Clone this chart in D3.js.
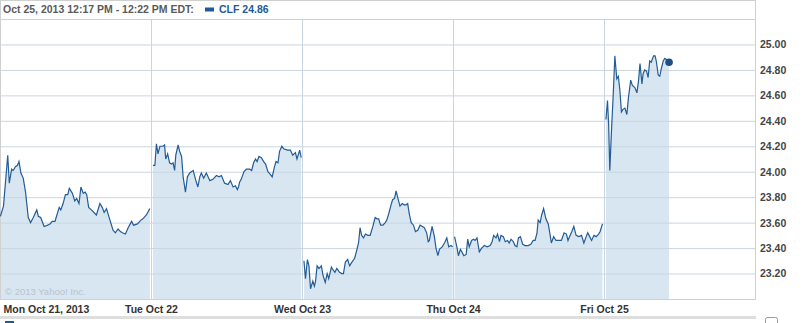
<!DOCTYPE html>
<html>
<head>
<meta charset="utf-8">
<script src="https://cdn.jsdelivr.net/npm/d3@7"></script>
<style>
  body { margin: 0; background: #fff; }
  text { font-family: "Liberation Sans", Arial, sans-serif; }
</style>
</head>
<body>
<div class="chart"></div>
<script>
// CLF intraday prices, one array per day: [minutes after open, price]
const mon = [[1,23.65],[9,23.73],[20,24.13],[24,23.91],[30,24.02],[34,24.01],[40,24.04],[45,24.05],[49,24.08],[54,23.99],[60,23.95],[66,23.84],[73,23.64],[79,23.60],[86,23.64],[95,23.70],[99,23.65],[105,23.64],[114,23.57],[123,23.58],[129,23.59],[135,23.61],[142,23.61],[146,23.65],[153,23.72],[157,23.70],[163,23.75],[169,23.82],[175,23.82],[179,23.87],[183,23.85],[187,23.83],[193,23.77],[198,23.79],[204,23.75],[209,23.88],[215,23.83],[220,23.84],[224,23.82],[229,23.72],[236,23.70],[249,23.66],[258,23.75],[264,23.72],[269,23.68],[275,23.71],[284,23.62],[292,23.54],[298,23.52],[305,23.55],[311,23.53],[316,23.52],[324,23.51],[331,23.56],[340,23.61],[345,23.58],[355,23.59],[364,23.62],[369,23.63],[378,23.66],[387,23.71]]
const tue = [[5,24.05],[10,24.05],[14,24.22],[18,24.14],[23,24.20],[27,24.20],[31,24.20],[35,24.21],[38,24.10],[43,24.14],[48,24.07],[53,24.06],[57,24.07],[61,24.01],[64,24.13],[70,24.21],[74,24.16],[79,24.12],[83,23.96],[89,23.84],[94,23.96],[100,23.99],[109,24.01],[115,23.94],[121,23.88],[126,23.96],[130,23.99],[136,23.95],[143,23.99],[152,23.93],[160,23.94],[169,23.97],[176,23.96],[182,23.97],[190,23.91],[199,23.90],[205,23.93],[212,23.88],[218,23.89],[223,23.86],[226,23.88],[229,23.92],[233,23.94],[240,24.00],[246,24.02],[255,24.02],[260,24.01],[265,24.07],[270,24.10],[274,24.08],[279,24.12],[285,24.11],[291,24.08],[296,24.06],[302,24.00],[308,23.98],[313,23.96],[319,24.04],[323,24.08],[328,24.07],[332,24.16],[338,24.20],[343,24.18],[352,24.17],[360,24.17],[366,24.13],[373,24.15],[377,24.10],[384,24.17],[388,24.11]]
const wed = [[5,23.30],[9,23.16],[14,23.31],[18,23.26],[22,23.08],[28,23.14],[32,23.10],[35,23.14],[39,23.26],[44,23.24],[50,23.26],[54,23.19],[60,23.13],[65,23.20],[69,23.16],[76,23.25],[80,23.23],[85,23.21],[90,23.24],[97,23.21],[103,23.20],[107,23.20],[112,23.29],[118,23.31],[123,23.26],[129,23.29],[136,23.32],[142,23.39],[146,23.44],[150,23.56],[154,23.50],[159,23.48],[164,23.51],[170,23.50],[176,23.50],[183,23.57],[189,23.64],[194,23.63],[198,23.63],[203,23.58],[209,23.58],[215,23.60],[219,23.62],[224,23.67],[230,23.74],[234,23.78],[239,23.79],[243,23.85],[247,23.80],[253,23.73],[259,23.75],[264,23.74],[269,23.74],[273,23.75],[277,23.67],[282,23.60],[288,23.58],[293,23.53],[299,23.54],[305,23.58],[311,23.57],[316,23.56],[322,23.52],[326,23.45],[329,23.46],[336,23.57],[342,23.49],[346,23.40],[351,23.34],[355,23.39],[362,23.41],[368,23.44],[374,23.48],[379,23.41],[385,23.42],[389,23.41]]
const thu = [[4,23.49],[10,23.41],[14,23.34],[19,23.39],[23,23.37],[28,23.34],[34,23.35],[38,23.47],[42,23.41],[48,23.46],[53,23.47],[57,23.46],[62,23.48],[68,23.37],[74,23.40],[81,23.42],[88,23.41],[96,23.42],[101,23.45],[105,23.50],[111,23.48],[115,23.51],[120,23.45],[124,23.50],[130,23.49],[135,23.45],[141,23.46],[145,23.44],[150,23.47],[156,23.45],[160,23.42],[165,23.41],[169,23.48],[174,23.49],[180,23.43],[186,23.42],[194,23.42],[201,23.43],[207,23.46],[212,23.46],[217,23.52],[220,23.62],[225,23.60],[229,23.66],[234,23.71],[240,23.63],[246,23.59],[250,23.52],[254,23.44],[260,23.49],[266,23.46],[272,23.46],[280,23.46],[287,23.52],[293,23.51],[297,23.46],[301,23.49],[307,23.53],[312,23.57],[318,23.50],[325,23.49],[332,23.50],[338,23.44],[344,23.49],[348,23.52],[353,23.49],[358,23.46],[364,23.50],[370,23.49],[376,23.51],[380,23.53],[386,23.59]]
const fri = [[5,24.41],[9,24.56],[12,24.37],[15,24.01],[19,24.30],[24,24.62],[28,24.91],[33,24.73],[37,24.75],[41,24.64],[45,24.47],[49,24.49],[54,24.50],[59,24.45],[63,24.58],[69,24.72],[73,24.68],[80,24.66],[85,24.62],[89,24.71],[93,24.85],[98,24.69],[101,24.77],[105,24.80],[110,24.79],[114,24.74],[118,24.87],[122,24.86],[128,24.91],[132,24.91],[135,24.87],[140,24.76],[144,24.75],[148,24.81],[153,24.87],[157,24.89],[162,24.88],[168,24.86]]

const days = [mon, tue, wed, thu, fri]
const dayLabels = ['Mon Oct 21, 2013', 'Tue Oct 22', 'Wed Oct 23', 'Thu Oct 24', 'Fri Oct 25']
const yTicks = [23.2, 23.4, 23.6, 23.8, 24.0, 24.2, 24.4, 24.6, 24.8, 25.0]
const headerText = 'Oct 25, 2013 12:17 PM - 12:22 PM EDT:'
const legendText = 'CLF 24.86'
const minutesPerDay = 390

var margin = {top: 19, left: 0},
    width = 755,
    height = 280;

var svg = d3.select(".chart")
  .append("svg")
  .attr("width", 802)
  .attr("height", 323)

var x = d3.scaleLinear()
  .domain([0, minutesPerDay * days.length])
  .range([0, width])

var y = d3.scaleLinear()
  .domain([23.0, 25.2])
  .range([margin.top + height, margin.top])

// header box
svg.append("rect")
  .attr("x", 0.5).attr("y", 0.5)
  .attr("width", width).attr("height", margin.top)
  .attr("fill", "#fff")
  .attr("stroke", "#d0d0d0")

svg.append("text")
  .attr("x", 3).attr("y", 13)
  .attr("font-size", "10.5px").attr("font-weight", "bold")
  .attr("fill", "#5a5a5a")
  .text(headerText)

svg.append("rect")
  .attr("x", 205).attr("y", 7.5)
  .attr("width", 9).attr("height", 4)
  .attr("fill", "#1f5a96")

svg.append("text")
  .attr("x", 219).attr("y", 13)
  .attr("font-size", "10.5px").attr("font-weight", "bold")
  .attr("fill", "#1f5a96")
  .text(legendText)

// area fill per day
var area = d3.area()
  .x(d => x(d[0]))
  .y0(y(23.0))
  .y1(d => y(d[1]))

var line = d3.line()
  .x(d => x(d[0]))
  .y(d => y(d[1]))

const series = days.map((day, i) => day.map(d => [d[0] + i * minutesPerDay, d[1]]))

svg.selectAll(".fill")
  .data(series)
  .enter().append("path")
  .attr("class", "fill")
  .attr("d", area)
  .attr("fill", "#d7e6f1")

// horizontal grid + right labels
var yAxis = svg.append("g")
  .attr("transform", "translate(" + width + ",0)")
  .call(d3.axisRight(y).tickValues(yTicks).tickFormat(d3.format(".2f")).tickSize(-width).tickPadding(5))
yAxis.select(".domain").remove()
yAxis.selectAll("line").attr("stroke", "#c9d6e1")
yAxis.selectAll("text")
  .attr("font-family", "Liberation Sans, Arial, sans-serif")
  .attr("font-size", "10.5px").attr("font-weight", "bold")
  .attr("fill", "#444")

// day separators
svg.selectAll(".sep")
  .data(d3.range(1, days.length))
  .enter().append("line")
  .attr("x1", d => Math.round(x(d * minutesPerDay)) + 0.5)
  .attr("x2", d => Math.round(x(d * minutesPerDay)) + 0.5)
  .attr("y1", margin.top).attr("y2", margin.top + height)
  .attr("stroke", "#c9d6e1")

// plot border
svg.append("rect")
  .attr("x", 0.5).attr("y", margin.top + 0.5)
  .attr("width", width).attr("height", height)
  .attr("fill", "none")
  .attr("stroke", "#d0d0d0")

svg.append("text")
  .attr("x", 5).attr("y", 295)
  .attr("font-size", "9.5px")
  .attr("fill", "#b7c3ce")
  .text("\u00a9 2013 Yahoo! Inc.")

// price line
svg.selectAll(".line")
  .data(series)
  .enter().append("path")
  .attr("class", "line")
  .attr("d", line)
  .attr("fill", "none")
  .attr("stroke", "#245c94")
  .attr("stroke-width", 1.2)

const last = series[series.length - 1][series[series.length - 1].length - 1]
svg.append("circle")
  .attr("cx", x(last[0])).attr("cy", y(last[1]))
  .attr("r", 3.8)
  .attr("fill", "#1b4f85")

// day labels
var xAxis = svg.append("g")
  .attr("transform", "translate(0," + (margin.top + height) + ")")
  .call(d3.axisBottom(x).tickValues(d3.range(days.length).map(i => i * minutesPerDay)).tickFormat((d, i) => dayLabels[i]).tickSize(0).tickPadding(7))
xAxis.select(".domain").remove()
xAxis.selectAll("text")
  .attr("font-family", "Liberation Sans, Arial, sans-serif")
  .attr("font-size", "10.5px").attr("font-weight", "bold")
  .attr("fill", "#333")
  .attr("text-anchor", (d, i) => i == 0 ? "start" : "middle")
  .attr("x", (d, i) => i == 0 ? 3 : 0)

// volume strip below (cut off by the window)
svg.append("rect")
  .attr("x", 0).attr("y", 316)
  .attr("width", width + 1).attr("height", 3)
  .attr("fill", "#dedede")

svg.append("rect")
  .attr("x", 5).attr("y", 321)
  .attr("width", 9).attr("height", 4)
  .attr("fill", "#1f5a96")

svg.append("text")
  .attr("x", 19).attr("y", 331)
  .attr("font-size", "10.5px").attr("font-weight", "bold")
  .attr("fill", "#1f5a96")
  .text("Volume 24,000")

svg.append("rect")
  .attr("x", 765.5).attr("y", 317.5)
  .attr("width", 12).attr("height", 12).attr("rx", 2)
  .attr("fill", "#fff")
  .attr("stroke", "#999")
</script>
</body>
</html>
